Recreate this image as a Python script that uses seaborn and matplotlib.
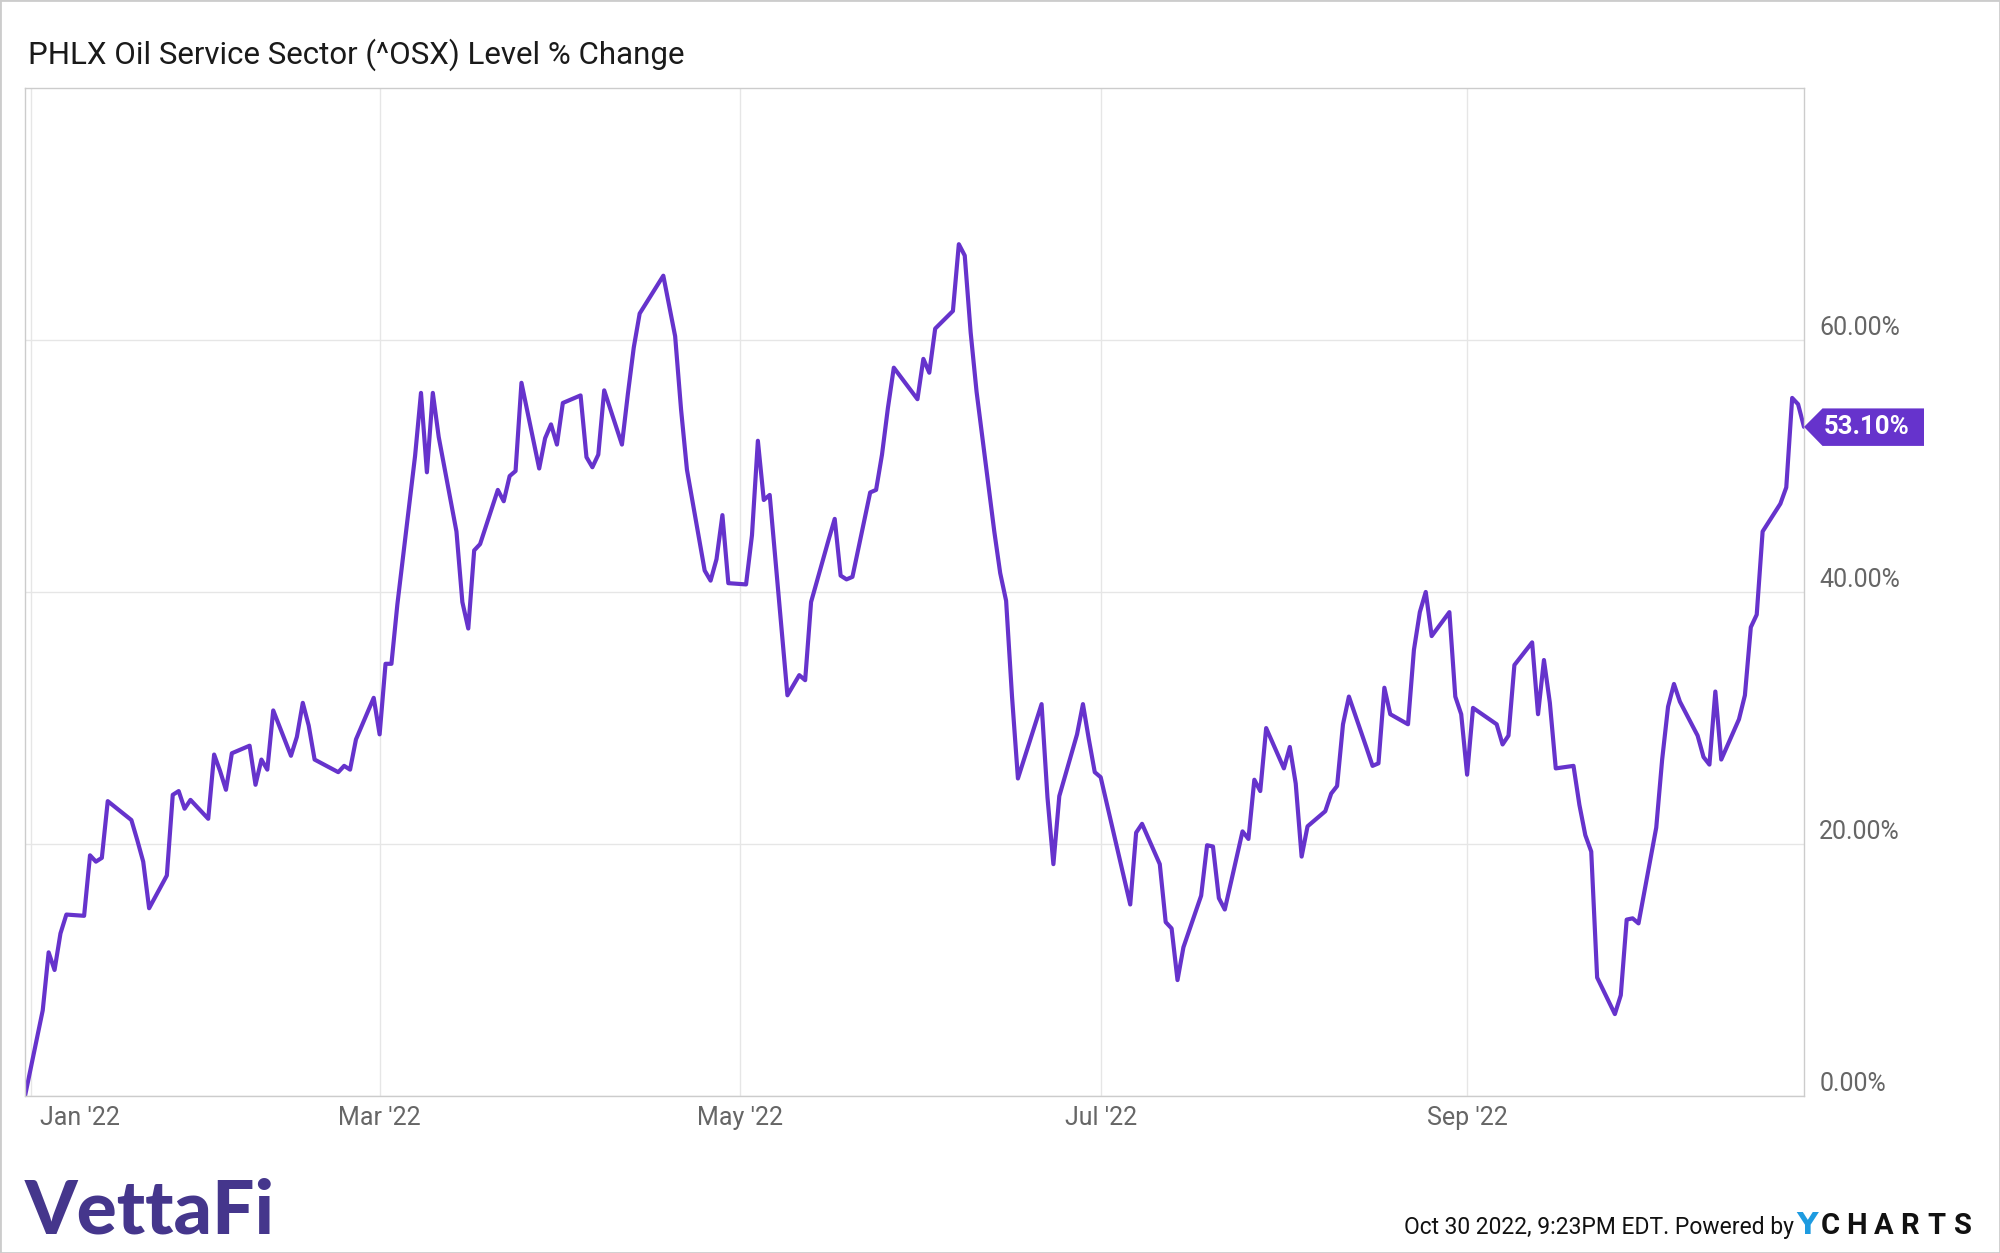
import matplotlib
matplotlib.use("Agg")
import matplotlib.pyplot as plt
import matplotlib.dates as mdates
import matplotlib.transforms as mtransforms
from matplotlib.patches import Polygon, Rectangle
import pandas as pd
import seaborn as sns

# trading days, Dec 31 2021 .. Oct 28 2022
holidays = ["2022-01-17", "2022-02-21", "2022-04-15", "2022-05-30",
            "2022-06-20", "2022-07-04", "2022-09-05"]
dates = pd.bdate_range("2021-12-31", "2022-10-28", freq="C", holidays=holidays)

# % change of ^OSX level
dec = [0.0]
jan = [6.8, 11.4, 10.0, 12.9, 14.4, 14.3, 19.1, 18.6, 18.9, 23.4, 21.9, 20.3, 18.6, 14.9, 17.5, 23.9, 24.2, 22.8, 23.5, 22.0]
feb = [27.1, 25.8, 24.3, 27.2, 27.8, 24.7, 26.7, 25.9, 30.6, 27.0, 28.5, 31.2, 29.4, 26.7, 25.7, 26.2, 25.9, 28.3, 31.6]
mar = [28.7, 34.3, 34.3, 39.0, 50.8, 55.8, 49.5, 55.8, 52.3, 44.8, 39.2, 37.1, 43.3, 43.8, 48.1, 47.2, 49.2, 49.6, 56.6, 49.8,
       52.2, 53.3, 51.7]
apr = [55.0, 55.6, 50.7, 49.9, 50.9, 56.0, 51.7, 55.7, 59.4, 62.1, 65.1, 62.7, 60.3, 54.5, 49.7, 41.7, 40.9, 42.6, 46.1, 40.7]
may = [40.6, 44.5, 52.0, 47.3, 47.7, 31.8, 32.6, 33.4, 33.0, 39.2, 44.2, 45.8, 41.3, 41.0, 41.2, 47.9, 48.1, 50.9, 54.6, 57.8,
       55.3]
jun = [58.5, 57.4, 60.9, 62.3, 67.6, 66.7, 60.6, 55.9, 44.8, 41.5, 39.3, 31.7, 25.2, 31.1, 23.7, 18.4, 23.8, 28.7, 31.1, 28.3,
       25.7]
jul = [25.3, 17.2, 15.2, 20.9, 21.6, 18.4, 13.8, 13.3, 9.2, 11.8, 15.9, 19.9, 19.8, 15.7, 14.8, 21.0, 20.4, 25.1, 24.2, 29.2]
aug = [26.0, 27.7, 24.8, 19.0, 21.4, 22.6, 24.0, 24.6, 29.5, 31.7, 27.6, 26.2, 26.4, 32.4, 30.3, 29.5, 35.4, 38.4, 40.0, 36.5,
       38.4, 31.7, 30.3]
sep = [25.5, 30.8, 29.5, 27.9, 28.6, 34.2, 36.0, 30.3, 34.6, 31.2, 26.0, 26.2, 23.1, 20.7, 19.4, 9.4, 6.5, 8.0, 14.0, 14.1,
       13.7]
oct_ = [21.3, 26.7, 30.9, 32.7, 31.3, 28.6, 26.9, 26.3, 32.1, 26.7, 29.9, 31.8, 37.2, 38.2, 44.8, 47.0, 48.3, 55.4, 54.9, 53.1]

pct_change = dec + jan + feb + mar + apr + may + jun + jul + aug + sep + oct_
assert len(pct_change) == len(dates)

month_ticks = ["2022-01-01", "2022-03-01", "2022-05-01", "2022-07-01", "2022-09-01"]
month_labels = ["Jan '22", "Mar '22", "May '22", "Jul '22", "Sep '22"]
y_ticks = [0, 20, 40, 60]
y_labels = ["0.00%", "20.00%", "40.00%", "60.00%"]

title = "PHLX Oil Service Sector (^OSX) Level % Change"
line_color = "#6633cc"

df = pd.DataFrame({"date": dates, "pct": pct_change})

sns.set_theme(style="white")
plt.rcParams["font.family"] = ["Roboto", "DejaVu Sans"]

fig = plt.figure(figsize=(20, 12.53), dpi=100)
ax = fig.add_axes([0.0125, 0.1253, 0.8895, 0.8045])

sns.lineplot(data=df, x="date", y="pct", color=line_color, linewidth=3.0, ax=ax)

ax.set_xlim(dates[0], dates[-1])
ax.set_ylim(0, 80)
ax.set_xlabel("")
ax.set_ylabel("")

ax.set_xticks(pd.to_datetime(month_ticks))
ax.set_xticklabels(month_labels)
ax.set_yticks(y_ticks)
ax.set_yticklabels(y_labels)
ax.yaxis.tick_right()
ax.tick_params(axis="x", length=0, pad=7, labelsize=18, labelcolor="#666666")
ax.tick_params(axis="y", length=0, pad=11, labelsize=18, labelcolor="#666666")
for lab in ax.get_yticklabels():
    lab.set_verticalalignment("bottom")
# Jan label sits to the right of its gridline
jan_lab = ax.get_xticklabels()[0]
jan_lab.set_transform(jan_lab.get_transform() + mtransforms.ScaledTranslation(0.49, 0, fig.dpi_scale_trans))

ax.grid(True, color="#e6e6e6", linewidth=1)
for sp in ax.spines.values():
    sp.set_visible(True)
    sp.set_color("#cccccc")
    sp.set_linewidth(1)

# last value tag
x0, y0 = ax.transData.transform((mdates.date2num(dates[-1]), pct_change[-1]))
tag = Polygon([(x0, y0), (x0 + 18.5, y0 + 18.5), (x0 + 120, y0 + 18.5),
               (x0 + 120, y0 - 19), (x0 + 18.5, y0 - 19)], closed=True,
              facecolor=line_color, edgecolor="none", transform=mtransforms.IdentityTransform())
fig.add_artist(tag)
fig.text((x0 + 63) / 2000, y0 / 1253, f"{pct_change[-1]:.2f}%", color="white", fontsize=18.5,
         fontweight="bold", ha="center", va="center")

fig.text(28 / 2000, 1 - 64 / 1253, title, fontsize=22.5, color="#1a1a1a", ha="left", va="baseline")

# footer
base_y = 1 - 1234 / 1253
fig.text(1794 / 2000, base_y, "Oct 30 2022, 9:23PM EDT. Powered by", fontsize=16.5,
         color="#111111", ha="right", va="baseline")
fig.text(1807 / 2000, base_y, "Y", fontsize=21.5, fontweight="bold", color="#1e9be0",
         family=["DejaVu Sans"], ha="center", va="baseline")
for i, letter in enumerate("CHARTS"):
    fig.text((1830.5 + i * 26.4) / 2000, base_y, letter, fontsize=21, fontweight="bold", color="#111111",
             ha="center", va="baseline")
fig.text(25 / 2000, 1 - 1234 / 1253, "VettaFi", fontsize=54, fontweight="black", color="#45368c",
         family=["Lato", "DejaVu Sans"], ha="left", va="baseline")

fig.add_artist(Rectangle((0, 0), 1, 1, transform=fig.transFigure, fill=False,
                         edgecolor="#cccccc", linewidth=2))

fig.savefig("out.png", dpi=100)
